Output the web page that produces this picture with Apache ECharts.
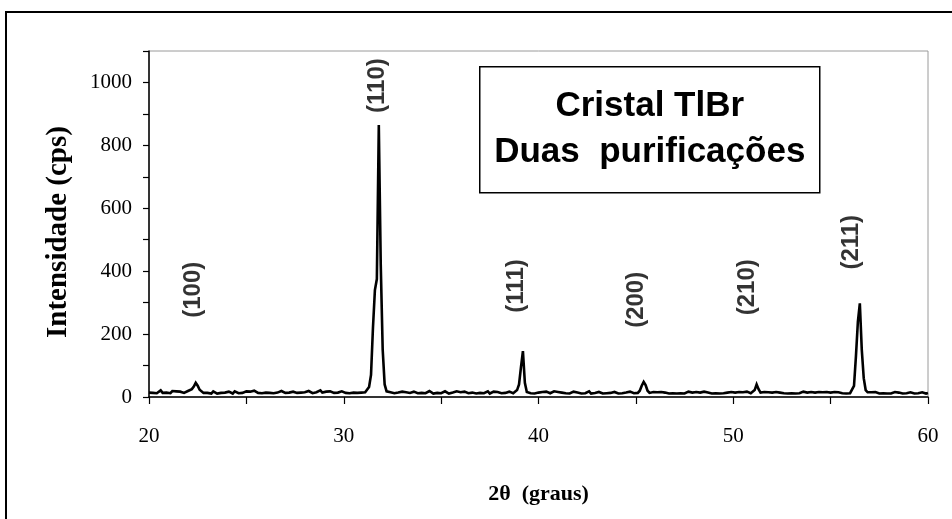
<!DOCTYPE html>
<html>
<head>
<meta charset="utf-8">
<title>Cristal TlBr - Duas purificações</title>
<script src="https://cdn.jsdelivr.net/npm/echarts@6/dist/echarts.min.js"></script>
<style>
  html, body { margin: 0; padding: 0; background: #fff; }
  #chart { width: 952px; height: 519px; }
</style>
</head>
<body>
<div id="chart"></div>
<script>
// Diffractogram: intensity (cps) on a 0.1° grid of 2θ, from 20.0° to 60.0°.
const startAngle = 20.0;
const angleStep = 0.1;
const intensity = [
  14, 19, 13, 18, 12, 17, 21, 13, 18, 14,      // 20
  17, 12, 19, 14, 18, 12, 17, 20, 13, 18,      // 21
  19, 21, 25, 33, 45, 36, 23, 17, 13, 18,      // 22  (100)
  13, 17, 11, 18, 14, 11, 17, 13, 19, 14,      // 23
  12, 17, 13, 11, 18, 14, 12, 17, 13, 16,      // 24
  18, 13, 17, 12, 20, 14, 13, 18, 12, 17,      // 25
  14, 19, 13, 17, 12, 18, 14, 13, 19, 15,      // 26
  13, 18, 14, 12, 17, 20, 13, 17, 14, 18,      // 27
  15, 13, 19, 14, 12, 18, 15, 13, 21, 14,      // 28
  13, 17, 12, 18, 14, 13, 19, 14, 12, 18,      // 29
  14, 13, 18, 12, 17, 14, 19, 13, 17, 14,      // 30
  18, 15, 21, 32, 70, 220, 340, 375, 865, 420, // 31  (110)
  150, 40, 18, 13, 15, 17, 12, 17, 14, 13,     // 32
  17, 12, 15, 18, 13, 11, 17, 14, 12, 18,      // 33
  13, 17, 12, 15, 19, 13, 11, 17, 13, 15,      // 34
  12, 16, 18, 13, 11, 17, 14, 12, 18, 13,      // 35
  15, 11, 17, 13, 12, 18, 14, 13, 11, 17,      // 36
  13, 17, 12, 15, 18, 11, 14, 17, 12, 16,      // 37
  17, 12, 15, 13, 11, 17, 13, 12, 18, 22,      // 38
  40, 95, 146, 45, 16, 13, 12, 16, 11, 14,     // 39  (111)
  14, 12, 16, 11, 17, 13, 12, 16, 18, 12,      // 40
  16, 11, 14, 17, 12, 15, 11, 14, 17, 12,      // 41
  14, 17, 11, 15, 12, 14, 18, 11, 16, 13,      // 42
  12, 16, 13, 11, 17, 12, 16, 13, 11, 16,      // 43
  13, 11, 17, 12, 16, 14, 11, 17, 13, 12,      // 44
  16, 13, 20, 36, 48, 38, 20, 13, 11, 16,      // 45  (200)
  12, 15, 11, 16, 12, 14, 17, 11, 15, 12,      // 46
  16, 11, 14, 12, 16, 11, 14, 17, 12, 14,      // 47
  11, 16, 12, 14, 11, 17, 12, 14, 16, 11,      // 48
  14, 12, 16, 11, 14, 12, 17, 14, 11, 16,      // 49
  12, 14, 11, 16, 12, 15, 11, 17, 14, 12,      // 50
  16, 22, 40, 25, 14, 11, 16, 12, 15, 11,      // 51  (210)
  14, 12, 16, 11, 14, 17, 12, 15, 11, 16,      // 52
  12, 15, 11, 16, 12, 14, 17, 11, 14, 12,      // 53
  16, 11, 14, 12, 16, 11, 15, 12, 16, 11,      // 54
  14, 12, 16, 11, 15, 17, 12, 14, 11, 16,      // 55
  12, 14, 35, 130, 240, 298, 150, 60, 22, 15,  // 56  (211)
  12, 15, 11, 16, 12, 11, 15, 12, 16, 11,      // 57
  14, 11, 13, 16, 11, 14, 12, 11, 16, 12,      // 58
  11, 15, 12, 11, 16, 12, 11, 15, 12, 11,      // 59
  13                                           // 60
];

// Miller indices of the reflections and where each annotation sits (2θ, cps).
const peakNames  = ['(100)', '(110)', '(111)', '(200)', '(210)', '(211)'];
const peakAngles = [22.26, 31.71, 38.86, 45.04, 50.72, 56.08];
const peakLevels = [341, 990, 353, 309, 349, 492];

// Axis ticks and labelled values.
const xTicks = [20, 30, 40, 50, 60];
const yTicks = [0, 200, 400, 600, 800, 1000];

const xTitle = '2\u03b8  (graus)';
const yTitle = 'Intensidade (cps)';
const boxLines = ['Cristal TlBr', 'Duas  purificações'];

const curve = intensity.map((v, i) => [+(startAngle + i * angleStep).toFixed(1), v]);
const labelPoints = peakNames.map((n, i) => ({ value: [peakAngles[i], peakLevels[i]], name: n }));

const serif = '"Liberation Serif", "Times New Roman", serif';
const sans = '"Liberation Sans", Arial, sans-serif';

const chart = echarts.init(document.getElementById('chart'), null, { renderer: 'canvas' });

chart.setOption({
  backgroundColor: '#ffffff',
  animation: false,
  grid: {
    left: 149, right: 24, top: 51, bottom: 122,
    show: true, borderColor: '#9a9a9a', borderWidth: 1, backgroundColor: 'transparent'
  },
  xAxis: {
    type: 'value',
    min: 20, max: 60, interval: 5,
    name: xTitle,
    nameLocation: 'middle',
    nameGap: 86,
    nameTextStyle: { fontFamily: serif, fontWeight: 'bold', fontSize: 22, color: '#000' },
    axisLine: { show: true, onZero: false, lineStyle: { color: '#000', width: 1.5 } },
    axisTick: { show: true, inside: false, length: 7, lineStyle: { color: '#000', width: 1.2 } },
    axisLabel: {
      margin: 29, fontFamily: serif, fontSize: 21, color: '#000',
      formatter: v => (xTicks.includes(v) ? String(v) : '')
    },
    splitLine: { show: false }
  },
  yAxis: {
    type: 'value',
    min: 0, max: 1100, interval: 100,
    axisLine: { show: true, onZero: false, lineStyle: { color: '#000', width: 1.5 } },
    axisTick: { show: true, inside: false, length: 6, lineStyle: { color: '#000', width: 1.2 } },
    axisLabel: {
      margin: 17, fontFamily: serif, fontSize: 21, color: '#000',
      formatter: v => (yTicks.includes(v) ? String(v) : '')
    },
    splitLine: { show: false }
  },
  series: [
    {
      type: 'line',
      data: curve,
      showSymbol: false,
      symbol: 'none',
      lineStyle: { color: '#000', width: 2.6, join: 'miter' },
      z: 3
    },
    {
      type: 'scatter',
      data: labelPoints,
      symbolSize: 0,
      silent: true,
      label: {
        show: true,
        position: 'inside',
        rotate: 90,
        align: 'center',
        verticalAlign: 'middle',
        formatter: p => p.name,
        fontFamily: sans,
        fontWeight: 'bold',
        fontSize: 24,
        color: '#000'
      },
      z: 4
    }
  ],
  graphic: [
    {
      type: 'rect',
      shape: { x: 6, y: 12, width: 1000, height: 600 },
      style: { fill: 'none', stroke: '#000', lineWidth: 2 },
      silent: true,
      z: 0
    },
    {
      type: 'text',
      x: 59, y: 232,
      rotation: Math.PI / 2,
      style: {
        text: yTitle, fill: '#000',
        font: 'bold 29px ' + serif,
        textAlign: 'center', textVerticalAlign: 'middle'
      }
    },
    {
      type: 'group',
      left: 479, top: 66,
      children: [
        {
          type: 'rect',
          shape: { x: 0, y: 0, width: 340, height: 126 },
          style: { fill: '#fff', stroke: '#000', lineWidth: 1.5 }
        },
        {
          type: 'text',
          x: 170, y: 40,
          style: {
            text: boxLines[0], fill: '#000',
            font: 'bold 35px ' + sans,
            textAlign: 'center', textVerticalAlign: 'middle'
          }
        },
        {
          type: 'text',
          x: 170, y: 86,
          style: {
            text: boxLines[1], fill: '#000',
            font: 'bold 35px ' + sans,
            textAlign: 'center', textVerticalAlign: 'middle'
          }
        }
      ]
    }
  ]
});
</script>
</body>
</html>
